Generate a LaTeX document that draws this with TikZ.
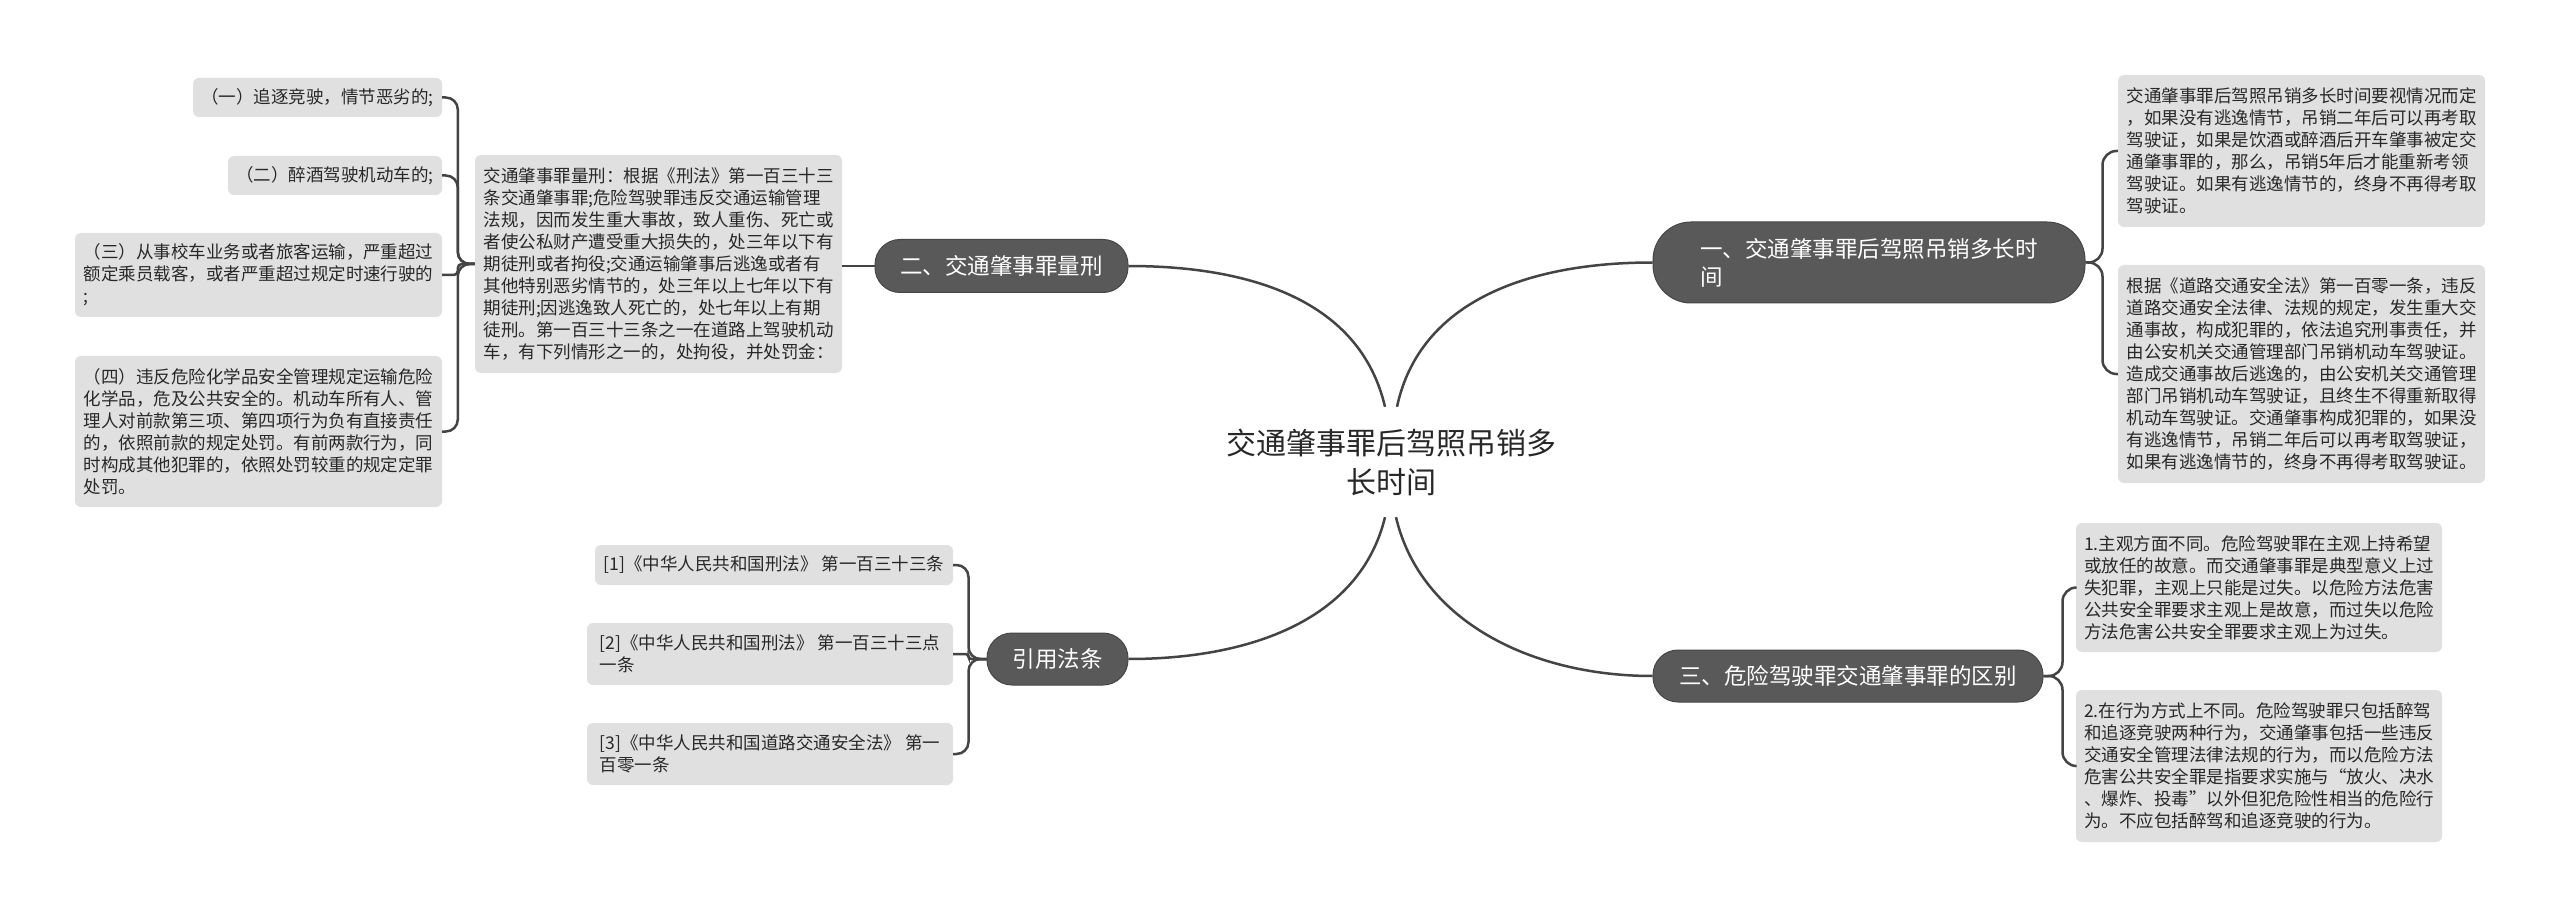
\documentclass[tikz,border=0pt]{standalone}
\usepackage{fontspec}
\setmainfont{Noto Sans CJK SC}
\definecolor{leafgray}{RGB}{224,224,224}
\definecolor{branchgray}{RGB}{89,89,89}
\definecolor{branchedge}{RGB}{70,70,70}
\definecolor{linegray}{RGB}{68,68,68}
\definecolor{textdark}{RGB}{40,40,40}
\tikzset{
  leaf/.style={fill=leafgray, rounded corners=6pt, inner xsep=8pt, inner ysep=0pt,
    align=left, text=textdark, font=\fontsize{17.5}{22}\selectfont},
  branch/.style={fill=branchgray, draw=branchedge, line width=1pt, rounded corners=25pt,
    inner xsep=20pt, inner ysep=0pt, align=left, text=white,
    font=\fontsize{22.5}{28}\selectfont},
  rootnode/.style={inner sep=0pt, align=center, text=textdark, minimum height=110pt,
    minimum width=340pt, font=\fontsize{30}{39}\selectfont},
  conn/.style={draw=linegray, line width=2.5pt},
}
\begin{document}
\begin{tikzpicture}[x=1pt,y=-1pt]
\useasboundingbox (0,0) rectangle (2560,917);
\fill[white] (0,0) rectangle (2560,917);

% root
\node[rootnode] (root) at (1391,462) {交通肇事罪后驾照吊销多\\长时间};

% branches
\node[branch, minimum width=253pt, minimum height=53pt] (B2) at (1001.5,266) {二、交通肇事罪量刑};
\node[branch, minimum width=432pt, minimum height=81pt, rounded corners=38pt] (B1) at (1869,262.5) {一、交通肇事罪后驾照吊销多长时\\间};
\node[branch, minimum width=390pt, minimum height=52pt] (B3) at (1848,676) {三、危险驾驶罪交通肇事罪的区别};
\node[branch, minimum width=141pt, minimum height=52pt] (B4) at (1057.5,659) {引用法条};

% left: 量刑
\node[leaf, minimum width=367pt, minimum height=218pt] (L0) at (658.5,264) {交通肇事罪量刑：根据《刑法》第一百三十三\\条交通肇事罪;危险驾驶罪违反交通运输管理\\法规，因而发生重大事故，致人重伤、死亡或\\者使公私财产遭受重大损失的，处三年以下有\\期徒刑或者拘役;交通运输肇事后逃逸或者有\\其他特别恶劣情节的，处三年以上七年以下有\\期徒刑;因逃逸致人死亡的，处七年以上有期\\徒刑。第一百三十三条之一在道路上驾驶机动\\车，有下列情形之一的，处拘役，并处罚金：};

\node[leaf, minimum width=249pt, minimum height=39pt] (L1) at (317.5,97.5) {（一）追逐竞驶，情节恶劣的;};
\node[leaf, minimum width=214pt, minimum height=39pt] (L2) at (335,175.5) {（二）醉酒驾驶机动车的;};
\node[leaf, minimum width=367pt, minimum height=84pt] (L3) at (258.5,275) {（三）从事校车业务或者旅客运输，严重超过\\额定乘员载客，或者严重超过规定时速行驶的\\;};
\node[leaf, minimum width=367pt, minimum height=151pt] (L4) at (258.5,431.5) {（四）违反危险化学品安全管理规定运输危险\\化学品，危及公共安全的。机动车所有人、管\\理人对前款第三项、第四项行为负有直接责任\\的，依照前款的规定处罚。有前两款行为，同\\时构成其他犯罪的，依照处罚较重的规定定罪\\处罚。};

% citations
\node[leaf, minimum width=358pt, minimum height=40pt] (C1) at (774,565) {[1]《中华人民共和国刑法》 第一百三十三条};
\node[leaf, minimum width=366pt, minimum height=62pt] (C2) at (770,654) {[2]《中华人民共和国刑法》 第一百三十三点\\一条};
\node[leaf, minimum width=366pt, minimum height=62pt] (C3) at (770,754) {[3]《中华人民共和国道路交通安全法》 第一\\百零一条};

% right top
\node[leaf, minimum width=367pt, minimum height=152pt] (R1) at (2301.5,151) {交通肇事罪后驾照吊销多长时间要视情况而定\\，如果没有逃逸情节，吊销二年后可以再考取\\驾驶证，如果是饮酒或醉酒后开车肇事被定交\\通肇事罪的，那么，吊销5年后才能重新考领\\驾驶证。如果有逃逸情节的，终身不再得考取\\驾驶证。};
\node[leaf, minimum width=367pt, minimum height=218pt] (R2) at (2301.5,374) {根据《道路交通安全法》第一百零一条，违反\\道路交通安全法律、法规的规定，发生重大交\\通事故，构成犯罪的，依法追究刑事责任，并\\由公安机关交通管理部门吊销机动车驾驶证。\\造成交通事故后逃逸的，由公安机关交通管理\\部门吊销机动车驾驶证，且终生不得重新取得\\机动车驾驶证。交通肇事构成犯罪的，如果没\\有逃逸情节，吊销二年后可以再考取驾驶证，\\如果有逃逸情节的，终身不再得考取驾驶证。};

% right bottom
\node[leaf, minimum width=366pt, minimum height=129pt] (R3) at (2259,587.5) {1.主观方面不同。危险驾驶罪在主观上持希望\\或放任的故意。而交通肇事罪是典型意义上过\\失犯罪，主观上只能是过失。以危险方法危害\\公共安全罪要求主观上是故意，而过失以危险\\方法危害公共安全罪要求主观上为过失。};
\node[leaf, minimum width=366pt, minimum height=152pt] (R4) at (2259,766) {2.在行为方式上不同。危险驾驶罪只包括醉驾\\和追逐竞驶两种行为，交通肇事包括一些违反\\交通安全管理法律法规的行为，而以危险方法\\危害公共安全罪是指要求实施与“放火、决水\\、爆炸、投毒”以外但犯危险性相当的危险行\\为。不应包括醉驾和追逐竞驶的行为。};

% main connectors
\draw[conn] ([xshift=-6pt]root.north) .. controls (1360,300) and (1250,266) .. (B2.east);
\draw[conn] ([xshift=6pt]root.north) .. controls (1420,300) and (1530,262.5) .. (B1.west);
\draw[conn] ([xshift=-6pt]root.south) .. controls (1360,620) and (1250,659) .. (B4.east);
\draw[conn] ([xshift=5pt]root.south) .. controls (1420,620) and (1530,676) .. (B3.west);

% brackets
\draw[conn] (B2.west) -- (B2.west -| L0.east);
\draw[conn, rounded corners=12pt] (L0.west) -- ++(-17,0) |- (L1.east);
\draw[conn, rounded corners=12pt] (L0.west) -- ++(-17,0) |- (L2.east);
\draw[conn, rounded corners=4pt] (L0.west) -- ++(-17,0) |- (L3.east);
\draw[conn, rounded corners=12pt] (L0.west) -- ++(-17,0) |- (L4.east);

\draw[conn, rounded corners=14pt] (B1.east) -- ++(17,0) |- (R1.west);
\draw[conn, rounded corners=14pt] (B1.east) -- ++(17,0) |- (R2.west);

\draw[conn, rounded corners=14pt] (B3.east) -- ++(19,0) |- (R3.west);
\draw[conn, rounded corners=14pt] (B3.east) -- ++(19,0) |- (R4.west);

\draw[conn, rounded corners=12pt] (B4.west) -- ++(-18,0) |- (C1.east);
\draw[conn, rounded corners=3pt] (B4.west) -- ++(-18,0) |- (C2.east);
\draw[conn, rounded corners=12pt] (B4.west) -- ++(-18,0) |- (C3.east);
\end{tikzpicture}
\end{document}
